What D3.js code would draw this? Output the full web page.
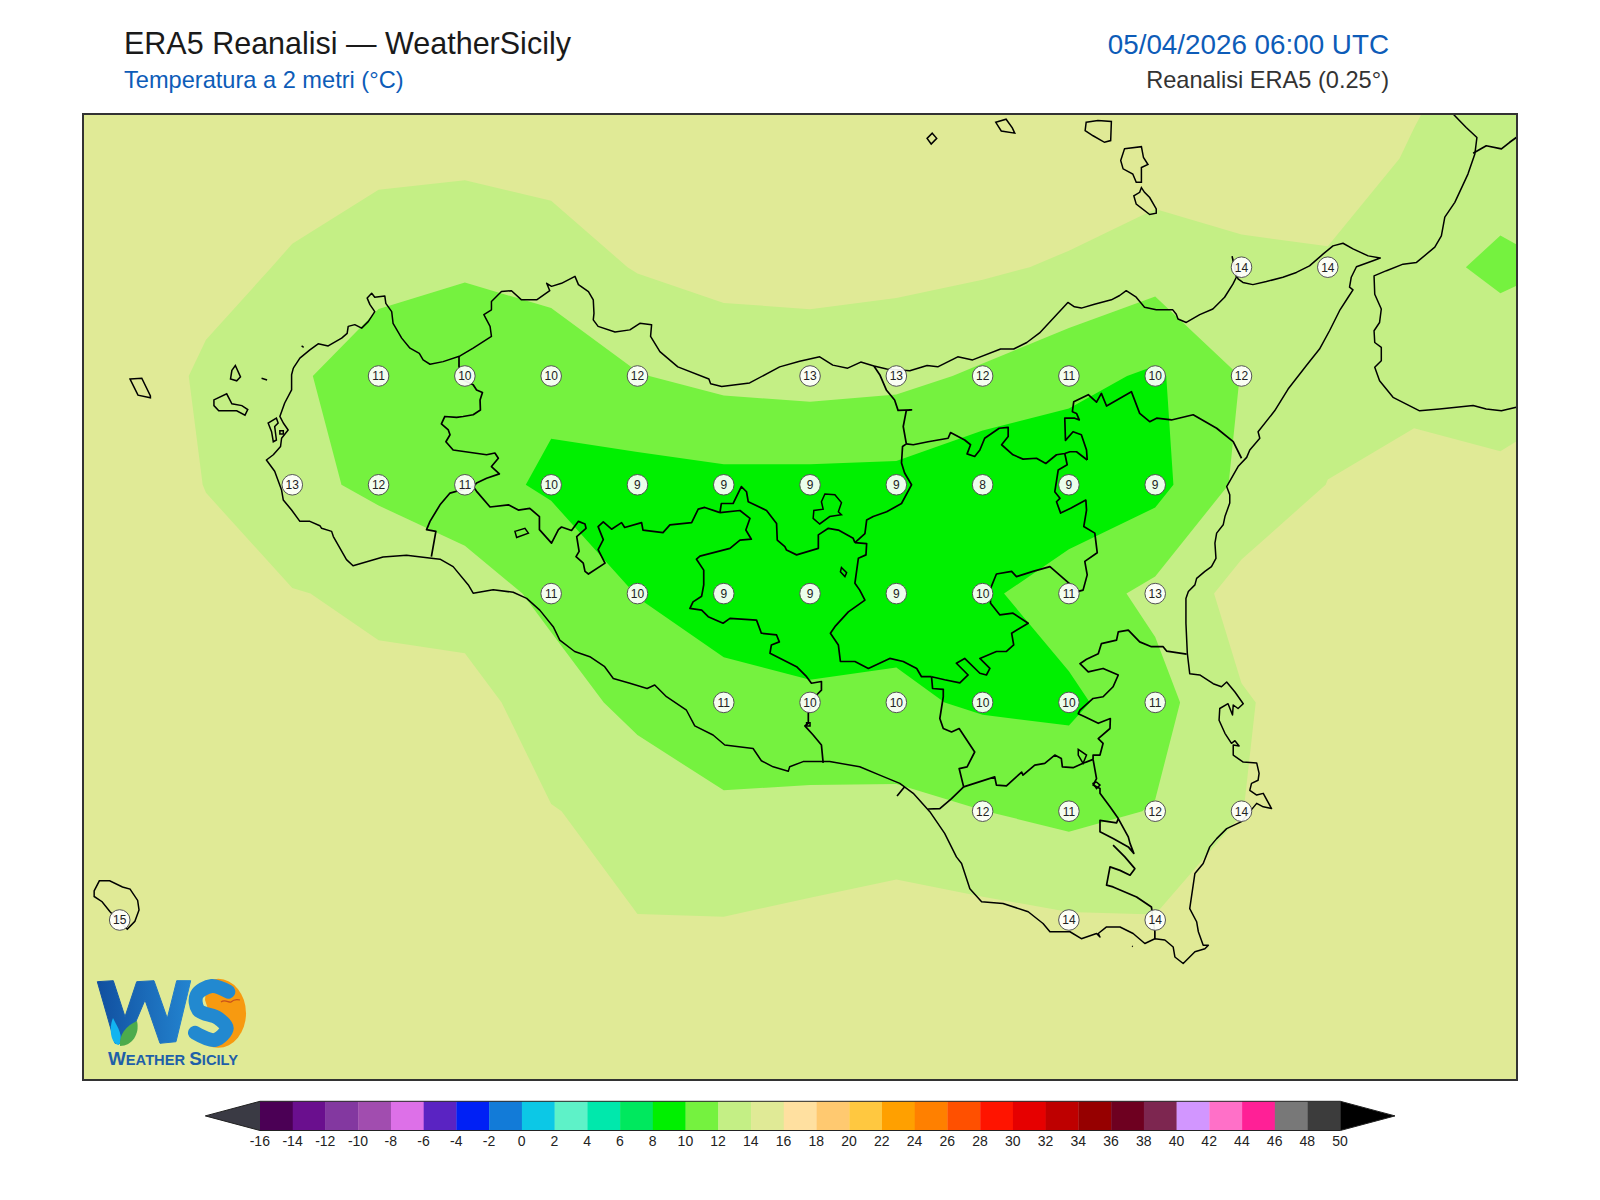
<!DOCTYPE html>
<html>
<head>
<meta charset="utf-8">
<title>ERA5 Reanalisi - WeatherSicily</title>
<script src="https://cdn.jsdelivr.net/npm/d3@7"></script>
<style>
  html, body { margin: 0; padding: 0; background: #fff; }
  svg { display: block; }
  text { font-family: "Liberation Sans", Arial, sans-serif; }
</style>
</head>
<body>
<div id="chart"></div>
<script>
// ERA5 0.25 degree grid
var gridLons = [11.75, 12, 12.25, 12.5, 12.75, 13, 13.25, 13.5, 13.75, 14, 14.25, 14.5, 14.75, 15, 15.25, 15.5, 15.75, 16, 16.25];
var gridLats = [38.75, 38.5, 38.25, 38, 37.75, 37.5, 37.25, 37, 36.75, 36.5, 36.25];

// 2 m temperature (C), one row per latitude
var t2m = [
  [15.8, 15.8, 15.8, 15.7, 15.6, 15.6, 15.7, 15.8, 15.8, 15.8, 15.8, 15.8, 15.8, 15.6, 15.3, 15.0, 14.44, 13.52, 13.3],
  [15.7, 15.5, 15.5, 14.69, 14.61, 14.43, 14.64, 15.3, 15.8, 15.8, 15.8, 15.6, 15.4, 15.0, 14.7, 14.84, 13.83, 12.73, 12.6],
  [15.6, 15.4, 14.6, 13.81, 12.5, 12.28, 13.0, 14.13, 14.7, 14.74, 14.57, 14.3, 13.75, 12.85, 13.7, 13.8, 12.45, 11.7, 12.16],
  [15.5, 15.2, 13.7, 12.25, 11.2, 10.3, 10.34, 11.91, 12.57, 12.82, 12.56, 11.7, 10.62, 9.7, 12.05, 13.2, 13.5, 12.95, 13.6],
  [15.5, 15.0, 13.96, 12.53, 11.6, 10.6, 9.75, 9.18, 9.4, 9.34, 9.28, 8.3, 8.55, 9.34, 12.47, 14.04, 14.54, 14.47, 15.6],
  [15.3, 15.0, 14.5, 14.08, 13.7, 13.1, 11.45, 9.95, 9.2, 9.2, 9.3, 9.67, 11.0, 12.5, 14.7, 15.0, 15.2, 15.3, 15.4],
  [15.3, 15.0, 14.9, 14.8, 14.4, 14.74, 13.0, 11.36, 10.57, 10.21, 10.33, 9.74, 9.6, 11.25, 13.85, 14.76, 15.2, 15.3, 15.4],
  [15.3, 15.0, 15.0, 15.0, 15.0, 15.0, 14.07, 13.49, 12.34, 12.57, 12.56, 12.02, 11.49, 12.09, 13.97, 15.2, 15.4, 15.5, 15.5],
  [15.3, 15.0, 15.0, 15.0, 15.0, 15.0, 14.6, 14.03, 14.05, 14.37, 14.85, 14.54, 14.2, 14.1, 14.9, 15.4, 15.5, 15.5, 15.5],
  [15.3, 15.2, 15.2, 15.2, 15.2, 15.2, 15.1, 15.0, 15.0, 15.1, 15.2, 15.2, 15.1, 15.0, 15.2, 15.4, 15.5, 15.5, 15.5],
  [15.3, 15.3, 15.3, 15.3, 15.3, 15.3, 15.3, 15.2, 15.2, 15.2, 15.3, 15.3, 15.3, 15.3, 15.4, 15.5, 15.5, 15.5, 15.5]
];

// printed values: lon, lat, label
var stations = [
  [15.25, 38.25, 14], [15.5, 38.25, 14],
  [12.75, 38, 11], [13, 38, 10], [13.25, 38, 10], [13.5, 38, 12], [14, 38, 13], [14.25, 38, 13], [14.5, 38, 12], [14.75, 38, 11], [15, 38, 10], [15.25, 38, 12],
  [12.5, 37.75, 13], [12.75, 37.75, 12], [13, 37.75, 11], [13.25, 37.75, 10], [13.5, 37.75, 9], [13.75, 37.75, 9], [14, 37.75, 9], [14.25, 37.75, 9], [14.5, 37.75, 8], [14.75, 37.75, 9], [15, 37.75, 9],
  [13.25, 37.5, 11], [13.5, 37.5, 10], [13.75, 37.5, 9], [14, 37.5, 9], [14.25, 37.5, 9], [14.5, 37.5, 10], [14.75, 37.5, 11], [15, 37.5, 13],
  [13.75, 37.25, 11], [14, 37.25, 10], [14.25, 37.25, 10], [14.5, 37.25, 10], [14.75, 37.25, 10], [15, 37.25, 11],
  [14.5, 37, 12], [14.75, 37, 11], [15, 37, 12], [15.25, 37, 14],
  [12, 36.75, 15], [14.75, 36.75, 14], [15, 36.75, 14]
];

// colour scale
var levels = [-16, -14, -12, -10, -8, -6, -4, -2, 0, 2, 4, 6, 8, 10, 12, 14, 16, 18, 20, 22, 24, 26, 28, 30, 32, 34, 36, 38, 40, 42, 44, 46, 48];
var levelColors = ["#4b0055", "#6a0f8e", "#8338a0", "#a14daf", "#dd70e8", "#5a23c2", "#0020f5", "#127bd8", "#0cc8e6", "#5ef2c8", "#00e8ac", "#00e85e", "#00f000", "#75f23f", "#c4ef85", "#e0ea96", "#ffe0a0", "#ffc970", "#ffc840", "#ffa000", "#ff8000", "#ff5000", "#ff1400", "#e60000", "#be0000", "#960000", "#6e0020", "#7d2650", "#d296ff", "#ff70c8", "#ff2096", "#787878", "#3c3c3c"];
var underColor = "#3a3a44";
var overColor = "#000000";
var tickLabels = levels.concat([50]);

// coastlines, lon/lat
var sicilyCoast = [[12.503,38.018],[12.522,38.041],[12.551,38.060],[12.575,38.074],[12.604,38.069],[12.643,38.087],[12.659,38.098],[12.662,38.114],[12.681,38.118],[12.701,38.110],[12.720,38.125],[12.739,38.148],[12.725,38.164],[12.717,38.179],[12.730,38.190],[12.739,38.181],[12.768,38.184],[12.771,38.167],[12.788,38.148],[12.792,38.121],[12.817,38.087],[12.841,38.064],[12.868,38.052],[12.879,38.037],[12.899,38.027],[12.937,38.033],[12.986,38.046],[13.024,38.064],[13.077,38.091],[13.073,38.114],[13.055,38.141],[13.077,38.152],[13.077,38.171],[13.106,38.194],[13.135,38.196],[13.164,38.175],[13.208,38.175],[13.246,38.196],[13.237,38.213],[13.251,38.206],[13.280,38.213],[13.319,38.229],[13.329,38.210],[13.358,38.194],[13.372,38.175],[13.374,38.144],[13.372,38.129],[13.386,38.114],[13.435,38.101],[13.478,38.106],[13.507,38.121],[13.541,38.118],[13.538,38.091],[13.565,38.056],
  [13.617,38.021],[13.707,37.993],[13.712,37.982],[13.744,37.976],[13.825,37.984],[13.912,38.021],[13.970,38.034],[14.028,38.044],[14.066,38.025],[14.109,38.018],[14.147,38.032],[14.185,38.023],[14.222,38.016],[14.289,38.012],[14.339,38.024],[14.370,38.021],[14.428,38.044],[14.471,38.037],[14.552,38.062],[14.590,38.062],[14.628,38.077],[14.665,38.099],[14.747,38.169],[14.766,38.159],[14.786,38.156],[14.824,38.165],[14.873,38.175],[14.897,38.185],[14.916,38.196],[14.945,38.181],[14.969,38.158],[15.003,38.152],[15.051,38.152],[15.061,38.142],[15.066,38.131],[15.090,38.123],[15.129,38.141],[15.167,38.154],[15.201,38.181],[15.225,38.211],[15.235,38.227],[15.223,38.274],[15.240,38.223],[15.254,38.215],[15.283,38.210],[15.322,38.217],[15.370,38.227],[15.409,38.238],[15.447,38.253],[15.486,38.280],[15.515,38.299],[15.544,38.305],[15.573,38.292],[15.617,38.276],[15.652,38.271],[15.631,38.265],[15.583,38.251],[15.568,38.227],[15.563,38.204],[15.573,38.198],[15.559,38.181],[15.534,38.150],[15.505,38.104],[15.476,38.062],[15.438,38.024],[15.385,37.970],[15.346,37.920],[15.298,37.872],[15.303,37.857],[15.274,37.830],[15.265,37.813],[15.240,37.792],[15.207,37.746],[15.216,37.727],[15.216,37.708],[15.202,37.677],[15.197,37.658],[15.178,37.639],[15.173,37.616],[15.176,37.581],[15.163,37.562],[15.144,37.551],[15.120,37.535],[15.115,37.520],[15.096,37.505],[15.089,37.489],[15.089,37.432],[15.093,37.363],[15.100,37.316],[15.129,37.313],[15.168,37.293],[15.192,37.286],[15.207,37.297],[15.231,37.274],[15.255,37.247],[15.240,37.236],[15.226,37.244],[15.224,37.221],[15.211,37.247],[15.187,37.236],[15.185,37.209],[15.202,37.179],[15.221,37.156],[15.231,37.162],[15.243,37.150],[15.226,37.152],[15.226,37.129],[15.255,37.113],[15.294,37.111],[15.301,37.087],[15.298,37.071],[15.279,37.064],[15.274,37.048],[15.294,37.037],[15.313,37.041],[15.337,37.006],[15.313,37.010],[15.294,37.018],[15.250,36.976],[15.207,36.960],[15.178,36.937],[15.158,36.918],[15.139,36.880],[15.115,36.857],[15.105,36.803],[15.100,36.776],[15.120,36.746],[15.125,36.723],[15.139,36.692],[15.154,36.692],[15.144,36.684],[15.115,36.677],[15.081,36.650],[15.057,36.665],[15.052,36.688],[15.028,36.704],[14.999,36.707],[14.970,36.696],[14.936,36.719],[14.898,36.734],[14.859,36.734],[14.835,36.719],[14.840,36.711],[14.830,36.719],[14.786,36.707],[14.753,36.723],[14.695,36.723],[14.675,36.742],[14.632,36.769],[14.559,36.788],[14.497,36.792],[14.463,36.822],[14.439,36.880],[14.424,36.895],[14.390,36.949],[14.347,36.999],[14.299,37.041],[14.260,37.064],[14.202,37.083],[14.144,37.102],[14.057,37.114],[13.980,37.114],[13.941,37.102],[13.937,37.092],[13.893,37.102],[13.859,37.116],[13.835,37.144],[13.753,37.152],[13.719,37.175],[13.666,37.196],[13.642,37.232],[13.584,37.263],[13.550,37.290],[13.528,37.282],[13.478,37.294],[13.430,37.305],[13.405,37.332],[13.362,37.355],[13.318,37.367],[13.275,37.393],[13.256,37.424],[13.217,37.462],[13.179,37.489],[13.140,37.503],[13.082,37.509],[13.024,37.501],[13.010,37.520],[12.966,37.562],[12.928,37.579],[12.903,37.581],[12.831,37.588],[12.763,37.584],[12.676,37.564],[12.657,37.578],[12.619,37.631],[12.614,37.643],[12.585,37.650],[12.580,37.656],[12.551,37.666],[12.522,37.666],[12.498,37.692],[12.474,37.715],[12.469,37.738],[12.449,37.781],[12.425,37.807],[12.445,37.819],[12.466,37.838],[12.469,37.857],[12.488,37.876],[12.474,37.892],[12.464,37.907],[12.478,37.938],[12.498,37.968],[12.498,38.003],[12.503,38.018]];

var calabriaCoast = [[15.844,38.625],[15.863,38.602],[15.901,38.571],[15.932,38.548],[15.926,38.510],[15.906,38.464],[15.868,38.399],[15.839,38.365],[15.829,38.322],[15.810,38.296],[15.757,38.261],[15.718,38.257],[15.670,38.242],[15.634,38.230],[15.636,38.188],[15.655,38.154],[15.650,38.123],[15.634,38.104],[15.636,38.077],[15.655,38.066],[15.655,38.035],[15.636,38.020],[15.650,37.989],[15.689,37.951],[15.766,37.920],[15.824,37.924],[15.921,37.932],[15.959,37.924],[16.003,37.920],[16.046,37.928],[16.075,37.928]];
var calabriaBoundary = [[15.921,38.512],[15.959,38.529],[16.003,38.522],[16.027,38.537],[16.046,38.548],[16.075,38.552]];

var islands = [
  [[12.430,37.892],[12.440,37.872],[12.445,37.849],[12.454,37.853],[12.449,37.884],[12.459,37.892],[12.454,37.903]],
  [[12.464,37.874],[12.474,37.874],[12.474,37.867],[12.464,37.867]],
  [[12.527,38.069],[12.533,38.066]],
  [[12.411,37.995],[12.427,37.991]],
  [[14.933,36.690],[14.935,36.689]],
  [[12.030,37.993],[12.064,37.995],[12.089,37.954],[12.089,37.950],[12.053,37.956]],
  [[12.325,38.013],[12.335,38.024],[12.350,37.998],[12.339,37.989],[12.321,37.993]],
  [[12.273,37.945],[12.310,37.959],[12.325,37.936],[12.354,37.932],[12.371,37.923],[12.363,37.910],[12.339,37.920],[12.287,37.920],[12.273,37.932]],
  [[14.354,38.558],[14.367,38.546],[14.351,38.533],[14.339,38.546]],
  [[14.538,38.583],[14.568,38.590],[14.586,38.570],[14.593,38.558],[14.554,38.563]],
  [[14.800,38.583],[14.834,38.587],[14.873,38.585],[14.871,38.541],[14.853,38.537],[14.820,38.552],[14.797,38.564]],
  [[14.911,38.522],[14.960,38.527],[14.966,38.502],[14.979,38.486],[14.960,38.479],[14.960,38.445],[14.945,38.445],[14.935,38.464],[14.907,38.476],[14.900,38.495]],
  [[14.960,38.433],[14.969,38.422],[14.984,38.410],[15.003,38.384],[15.003,38.374],[14.984,38.371],[14.945,38.395],[14.938,38.414],[14.955,38.422]],
  [[11.926,36.817],[11.941,36.840],[11.971,36.840],[12.008,36.826],[12.030,36.821],[12.052,36.795],[12.056,36.773],[12.044,36.747],[12.022,36.729],[11.972,36.769],[11.949,36.792],[11.926,36.804]]
];

// province boundaries, lon/lat
var boundaryTrapaniPalermo = [[12.983,38.046],[12.983,38.022],[12.995,37.991],[13.024,37.980],[13.034,37.968],[13.051,37.962],[13.044,37.945],[13.045,37.922],[13.024,37.911],[12.995,37.907],[12.976,37.905],[12.942,37.907],[12.932,37.890],[12.952,37.876],[12.957,37.865],[12.945,37.849],[12.966,37.830],[13.063,37.819],[13.087,37.823],[13.097,37.811],[13.077,37.792],[13.100,37.775],[13.063,37.765],[13.034,37.754],[13.024,37.746]];
var boundaryTrapaniAgrigento = [[13.024,37.746],[12.957,37.731],[12.928,37.704],[12.899,37.666],[12.889,37.647],[12.916,37.643],[12.903,37.585]];
var boundaryPalermoAgrigento = [[13.024,37.746],[13.034,37.735],[13.073,37.699],[13.126,37.704],[13.155,37.692],[13.188,37.696],[13.216,37.677],[13.216,37.647],[13.251,37.616],[13.271,37.647],[13.280,37.653],[13.309,37.645],[13.329,37.666],[13.348,37.660],[13.351,37.650],[13.324,37.631],[13.331,37.597],[13.322,37.585],[13.343,37.570],[13.348,37.551],[13.358,37.545],[13.406,37.570],[13.386,37.601],[13.401,37.624],[13.386,37.654],[13.401,37.665],[13.425,37.648],[13.454,37.663],[13.463,37.652],[13.512,37.663],[13.516,37.646],[13.574,37.640],[13.594,37.658],[13.657,37.663],[13.676,37.694],[13.695,37.698],[13.739,37.686]];
var boundaryAgrigentoCaltanissetta = [[13.739,37.686],[13.797,37.691],[13.826,37.673],[13.814,37.646],[13.830,37.625],[13.797,37.623],[13.768,37.604],[13.681,37.586],[13.671,37.579],[13.692,37.554],[13.692,37.520],[13.686,37.494],[13.661,37.481],[13.652,37.466],[13.686,37.462],[13.705,37.447],[13.748,37.432],[13.768,37.443],[13.845,37.439],[13.859,37.409],[13.903,37.405],[13.911,37.389],[13.888,37.382],[13.884,37.363],[13.961,37.332],[13.990,37.309],[14.004,37.294],[14.033,37.298],[14.033,37.278],[14.014,37.263],[13.995,37.225],[13.995,37.202],[13.985,37.196],[14.009,37.175],[14.033,37.152],[14.038,37.111]];
var boundaryPalermoCaltanissetta = [[13.739,37.686],[13.743,37.707],[13.777,37.707],[13.801,37.746],[13.816,37.734],[13.821,37.711],[13.874,37.691],[13.903,37.661],[13.905,37.623],[13.927,37.608],[13.932,37.600],[13.961,37.589],[14.024,37.604],[14.024,37.635],[14.053,37.650],[14.082,37.646],[14.125,37.627],[14.130,37.617]];
var boundaryCaltanissettaEnna = [[14.130,37.617],[14.164,37.615],[14.162,37.589],[14.140,37.581],[14.130,37.524],[14.144,37.508],[14.159,37.485],[14.111,37.458],[14.072,37.424],[14.059,37.409],[14.082,37.382],[14.088,37.344],[14.130,37.344],[14.169,37.328],[14.231,37.351],[14.270,37.344],[14.309,37.328],[14.323,37.309],[14.352,37.309]];
var boundaryPalermoEnna = [[14.130,37.617],[14.159,37.638],[14.164,37.669],[14.183,37.677],[14.222,37.688],[14.265,37.707],[14.294,37.750],[14.274,37.777],[14.265,37.800],[14.268,37.838],[14.279,37.844],[14.270,37.884],[14.279,37.921],[14.294,37.922],[14.255,37.921],[14.245,37.945],[14.221,37.968],[14.202,38.003],[14.185,38.023]];
var boundaryMessinaEnna = [[14.279,37.844],[14.299,37.842],[14.342,37.849],[14.400,37.857],[14.407,37.870],[14.448,37.853],[14.465,37.842],[14.455,37.821],[14.477,37.815],[14.492,37.830],[14.506,37.857],[14.548,37.880],[14.574,37.882],[14.574,37.861],[14.555,37.842],[14.588,37.819],[14.617,37.809],[14.656,37.811],[14.683,37.799],[14.714,37.819],[14.738,37.822],[14.753,37.826],[14.772,37.826],[14.803,37.807]];
var boundaryMessinaCatania = [[14.803,37.807],[14.801,37.830],[14.786,37.865],[14.762,37.872],[14.740,37.852],[14.738,37.903],[14.767,37.903],[14.780,37.899],[14.772,37.914],[14.760,37.918],[14.764,37.941],[14.806,37.957],[14.830,37.940],[14.844,37.960],[14.859,37.931],[14.931,37.964],[14.955,37.914],[14.984,37.895],[15.004,37.903],[15.047,37.899],[15.110,37.911],[15.178,37.880],[15.226,37.849],[15.250,37.811]];
var boundaryEnnaCatania = [[14.738,37.822],[14.745,37.796],[14.719,37.784],[14.716,37.769],[14.709,37.734],[14.724,37.719],[14.714,37.711],[14.726,37.685],[14.755,37.696],[14.799,37.715],[14.801,37.692],[14.793,37.654],[14.825,37.639],[14.832,37.594],[14.796,37.574],[14.803,37.543],[14.791,37.508],[14.777,37.505],[14.750,37.524],[14.695,37.562],[14.646,37.551],[14.598,37.539],[14.584,37.551],[14.540,37.545],[14.521,37.508],[14.523,37.478],[14.550,37.451],[14.588,37.455],[14.632,37.432],[14.584,37.409],[14.590,37.382],[14.569,37.367],[14.540,37.367],[14.492,37.351],[14.521,37.328],[14.511,37.313],[14.492,37.317],[14.448,37.351],[14.424,37.340],[14.458,37.313],[14.434,37.295],[14.390,37.302],[14.352,37.309]];
var boundaryGela = [[14.352,37.309],[14.355,37.282],[14.386,37.280],[14.386,37.263],[14.376,37.213],[14.386,37.190],[14.410,37.182],[14.432,37.190],[14.477,37.136],[14.455,37.102],[14.432,37.098],[14.445,37.056]];
var boundaryGelaCoast = [[14.445,37.056],[14.410,37.029],[14.376,37.006],[14.342,37.005]];
var boundaryCataniaRagusa = [[14.445,37.056],[14.535,37.079],[14.540,37.060],[14.569,37.058],[14.613,37.090],[14.617,37.083],[14.651,37.106],[14.680,37.110],[14.709,37.129],[14.728,37.121],[14.731,37.102],[14.762,37.100],[14.791,37.110],[14.820,37.119]];
var boundaryRagusaSiracusa = [[14.820,37.119],[14.830,37.075],[14.820,37.060],[14.840,37.052],[14.840,37.041],[14.869,37.010],[14.893,36.983],[14.888,36.973],[14.840,36.979],[14.840,36.953],[14.878,36.937],[14.922,36.918],[14.938,36.903],[14.927,36.926],[14.922,36.941],[14.893,36.983]];
var boundaryRagusaSiracusa2 = [[14.878,36.922],[14.912,36.895],[14.941,36.868],[14.927,36.853],[14.898,36.864],[14.869,36.872],[14.859,36.830],[14.878,36.826],[14.946,36.803],[14.989,36.780],[14.999,36.723],[14.999,36.707]];
var boundaryCataniaSiracusa = [[14.820,37.119],[14.820,37.129],[14.840,37.129],[14.849,37.156],[14.835,37.167],[14.869,37.190],[14.870,37.213],[14.835,37.202],[14.796,37.217],[14.777,37.224],[14.782,37.232],[14.820,37.259],[14.849,37.263],[14.878,37.286],[14.893,37.313],[14.849,37.328],[14.806,37.320],[14.782,37.339],[14.801,37.349],[14.835,37.362],[14.844,37.385],[14.888,37.393],[14.893,37.412],[14.922,37.416],[14.955,37.389],[14.989,37.378],[15.023,37.378],[15.033,37.368],[15.091,37.361]];
var boundaryTick = [[14.274,37.056],[14.252,37.035]];

var enclaves = [
  [[14.043,37.729],[14.072,37.727],[14.091,37.709],[14.082,37.688],[14.091,37.681],[14.057,37.677],[14.028,37.660],[14.009,37.673],[14.011,37.691],[14.038,37.694],[14.033,37.711]],
  [[14.091,37.560],[14.106,37.548],[14.101,37.539],[14.088,37.550]],
  [[13.145,37.643],[13.174,37.650],[13.184,37.639],[13.150,37.629]],
  [[13.990,37.203],[14.000,37.203],[14.000,37.196],[13.990,37.196]],
  [[14.820,37.064],[14.830,37.067],[14.840,37.060],[14.830,37.052]],
  [[14.777,37.142],[14.801,37.129],[14.791,37.110],[14.777,37.129]]
];

var width = 1600;
var height = 1200;
var frame = { left: 83, right: 1517, top: 114, bottom: 1080 };

var svg = d3.select("#chart").append("svg")
  .attr("width", width)
  .attr("height", height)
  .attr("viewBox", "0 0 " + width + " " + height);

// lon/lat to page
var x = d3.scaleLinear().domain([12, 15.5]).range([119.7, 1327.8]);
var y = d3.scaleLinear().domain([38.25, 36.75]).range([267.2, 920]);

svg.append("clipPath").attr("id", "map-clip")
  .append("rect")
  .attr("x", frame.left).attr("y", frame.top)
  .attr("width", frame.right - frame.left).attr("height", frame.bottom - frame.top);

var map = svg.append("g").attr("clip-path", "url(#map-clip)");

// filled bands; d3.contours puts sample i at i + 0.5
var iToLon = d3.scaleLinear().domain([0, gridLons.length - 1]).range([gridLons[0], gridLons[gridLons.length - 1]]);
var jToLat = d3.scaleLinear().domain([0, gridLats.length - 1]).range([gridLats[0], gridLats[gridLats.length - 1]]);
var gridPath = d3.geoPath(d3.geoTransform({
  point: function(i, j) {
    this.stream.point(x(iToLon(i - 0.5)), y(jToLat(j - 0.5)));
  }
}));

var bands = d3.contours()
  .size([gridLons.length, gridLats.length])
  .thresholds(levels)(t2m.flat());

map.selectAll("path.band")
  .data(bands)
  .enter().append("path")
  .attr("class", "band")
  .attr("d", gridPath)
  .attr("fill", function(d, i) { return levelColors[i]; });

// coast and boundaries
var geoLine = d3.line()
  .x(function(d) { return x(d[0]); })
  .y(function(d) { return y(d[1]); });

var closedLines = islands.concat(enclaves);
map.selectAll("path.ring")
  .data(closedLines)
  .enter().append("path")
  .attr("class", "ring")
  .attr("d", function(d) { return geoLine(d) + "Z"; })
  .attr("fill", "none")
  .attr("stroke", "#000")
  .attr("stroke-width", 1.5);

var boundaries = [boundaryTrapaniPalermo, boundaryTrapaniAgrigento, boundaryPalermoAgrigento, boundaryAgrigentoCaltanissetta, boundaryPalermoCaltanissetta, boundaryCaltanissettaEnna, boundaryPalermoEnna, boundaryMessinaEnna, boundaryMessinaCatania, boundaryEnnaCatania, boundaryGela, boundaryGelaCoast, boundaryCataniaRagusa, boundaryRagusaSiracusa, boundaryRagusaSiracusa2, boundaryCataniaSiracusa, boundaryTick, calabriaBoundary];
map.selectAll("path.boundary")
  .data(boundaries)
  .enter().append("path")
  .attr("class", "boundary")
  .attr("d", geoLine)
  .attr("fill", "none")
  .attr("stroke", "#000")
  .attr("stroke-width", 1.7)
  .attr("stroke-linejoin", "round");

map.selectAll("path.coast")
  .data([sicilyCoast, calabriaCoast])
  .enter().append("path")
  .attr("class", "coast")
  .attr("d", geoLine)
  .attr("fill", "none")
  .attr("stroke", "#000")
  .attr("stroke-width", 1.5)
  .attr("stroke-linejoin", "round");

// value badges
var badge = map.selectAll("g.station")
  .data(stations)
  .enter().append("g")
  .attr("class", "station")
  .attr("transform", function(d) { return "translate(" + x(d[0]) + "," + y(d[1]) + ")"; });

badge.append("circle")
  .attr("r", 10.3)
  .attr("fill", "#fff")
  .attr("fill-opacity", 0.92)
  .attr("stroke", "#555")
  .attr("stroke-width", 1);

badge.append("text")
  .attr("text-anchor", "middle")
  .attr("dy", "0.36em")
  .attr("font-size", 12)
  .attr("fill", "#222")
  .text(function(d) { return d[2]; });

// logo, drawn in page space over the map corner
function drawLogo(g) {
  var line = d3.line().curve(d3.curveCatmullRom.alpha(0.5));
  var defs = g.append("defs");
  var gradW = defs.append("linearGradient").attr("id", "logo-w").attr("x1", 0).attr("x2", 1).attr("y1", 0).attr("y2", 0);
  gradW.append("stop").attr("offset", 0).attr("stop-color", "#114f9f");
  gradW.append("stop").attr("offset", 1).attr("stop-color", "#2384d0");

  // orange disc shows in the upper counter and on the right of the S
  defs.append("clipPath").attr("id", "logo-sun")
    .append("polygon").attr("points", "207,978 250,978 250,1052 200,1052 205,1036 225,1030 210,1015 205,1000");
  g.append("ellipse")
    .attr("cx", 218.3).attr("cy", 1013.3).attr("rx", 27.7).attr("ry", 34.5)
    .attr("fill", "#f79a10")
    .attr("clip-path", "url(#logo-sun)");
  g.append("path")
    .attr("d", "M97.3,981.7 L113.3,980.7 L125,1016.7 L136.7,981.7 L154,980.7 L167.3,1018.3 L176.7,980.7 L190.7,980.7 L176,1041.7 L160,1043.3 L145,1000 L126.7,1043.3 L115,1043.3 Z")
    .attr("fill", "url(#logo-w)")
    .attr("stroke", "url(#logo-w)")
    .attr("stroke-width", 1)
    .attr("stroke-linejoin", "round");
  g.append("path")
    .attr("d", line([[228.3, 991.7], [211.7, 986], [196.7, 995], [198.3, 1010], [218.3, 1018.3], [226.7, 1028.3], [215, 1040], [195, 1032.7]]))
    .attr("fill", "none")
    .attr("stroke", "#2289d0")
    .attr("stroke-width", 14)
    .attr("stroke-linecap", "round");
  g.append("path")
    .attr("d", "M113,1018 C118,1028 124,1036 119,1045 C112,1045 108,1030 113,1018 Z")
    .attr("fill", "#12b4f0");
  g.append("path")
    .attr("d", "M137,1021 C126,1026 119,1034 120,1046 C132,1046 140,1034 137,1021 Z")
    .attr("fill", "#4cab4c");
  g.append("path")
    .attr("d", "M221,1002 C225,999 229,1003 231,1002 C233,1000 236,999 240,1000")
    .attr("fill", "none")
    .attr("stroke", "#c8501a")
    .attr("stroke-width", 1.2);
  var word = g.append("text")
    .attr("x", 108)
    .attr("y", 1065)
    .attr("font-weight", "bold")
    .attr("fill", "#1f5fa8")
    .attr("textLength", 130)
    .attr("lengthAdjust", "spacingAndGlyphs");
  word.append("tspan").attr("font-size", 18).text("W");
  word.append("tspan").attr("font-size", 14).text("EATHER ");
  word.append("tspan").attr("font-size", 18).text("S");
  word.append("tspan").attr("font-size", 14).text("ICILY");
}
drawLogo(svg.append("g").attr("class", "logo"));

// map frame
svg.append("rect")
  .attr("x", frame.left).attr("y", frame.top)
  .attr("width", frame.right - frame.left).attr("height", frame.bottom - frame.top)
  .attr("fill", "none")
  .attr("stroke", "#333")
  .attr("stroke-width", 2);

// colour bar
var barTop = 1101.3;
var barBottom = 1130.5;
var barMid = (barTop + barBottom) / 2;
var legendX = d3.scaleLinear().domain([-16, 50]).range([260, 1340.3]);

var legend = svg.append("g").attr("class", "colorbar");

legend.selectAll("rect")
  .data(levels)
  .enter().append("rect")
  .attr("x", function(d) { return legendX(d); })
  .attr("y", barTop)
  .attr("width", function(d) { return legendX(d + 2) - legendX(d) + 0.3; })
  .attr("height", barBottom - barTop)
  .attr("fill", function(d, i) { return levelColors[i]; });

legend.append("path")
  .attr("d", "M" + legendX(-16) + "," + barTop + "L205.3," + barMid + "L" + legendX(-16) + "," + barBottom + "Z")
  .attr("fill", underColor);
legend.append("path")
  .attr("d", "M" + legendX(50) + "," + barTop + "L1395," + barMid + "L" + legendX(50) + "," + barBottom + "Z")
  .attr("fill", overColor);
legend.append("path")
  .attr("d", "M205.3," + barMid + "L" + legendX(-16) + "," + barTop + "H" + legendX(50) + "L1395," + barMid + "L" + legendX(50) + "," + barBottom + "H" + legendX(-16) + "Z")
  .attr("fill", "none")
  .attr("stroke", "#222")
  .attr("stroke-width", 1);

var legendAxis = d3.axisBottom(legendX)
  .tickValues(tickLabels)
  .tickSize(0)
  .tickPadding(5.5)
  .tickFormat(String);

legend.append("g")
  .attr("transform", "translate(-0.7," + barBottom + ")")
  .call(legendAxis)
  .call(function(g) { g.select(".domain").remove(); })
  .call(function(g) {
    g.selectAll("text")
      .attr("font-size", 14)
      .attr("font-family", "'Liberation Sans', Arial, sans-serif")
      .attr("fill", "#222");
  });

// titles
svg.append("text").attr("x", 124).attr("y", 54)
  .attr("font-size", 30.5).attr("fill", "#1a1a1a")
  .text("ERA5 Reanalisi \u2014 WeatherSicily");
svg.append("text").attr("x", 124).attr("y", 87.5)
  .attr("font-size", 23.6).attr("fill", "#0d5cb8")
  .text("Temperatura a 2 metri (\u00b0C)");
svg.append("text").attr("x", 1389).attr("y", 54)
  .attr("text-anchor", "end")
  .attr("font-size", 27.8).attr("fill", "#0d5cb8")
  .text("05/04/2026 06:00 UTC");
svg.append("text").attr("x", 1389).attr("y", 87.5)
  .attr("text-anchor", "end")
  .attr("font-size", 23.6).attr("fill", "#333")
  .text("Reanalisi ERA5 (0.25\u00b0)");
</script>
</body>
</html>
